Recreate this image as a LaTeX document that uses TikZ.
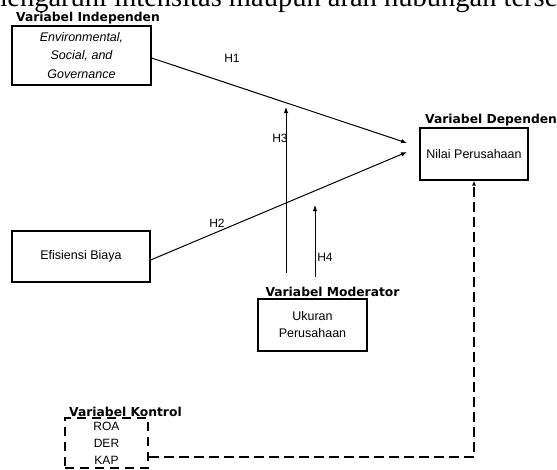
\documentclass[tikz,border=0pt]{standalone}
\usepackage{fontspec}
\setmainfont{Liberation Sans}
\newfontfamily\serifpart{Liberation Serif}
\newfontfamily\labelfont{DejaVu Sans}
\usetikzlibrary{arrows.meta,calc}
\begin{document}
\begin{tikzpicture}[x=1pt,y=-1pt,
  box/.style={draw=black, line width=1.3pt, inner sep=0pt, align=center,
    font=\fontsize{12.5}{18.5}\selectfont},
  dbox/.style={box, line width=2pt, dash pattern=on 9pt off 6pt,
    font=\fontsize{12}{17}\selectfont},
  varlabel/.style={inner sep=0pt, font=\labelfont\bfseries\fontsize{12.3}{14}\selectfont},
  hlabel/.style={inner sep=0pt, font=\fontsize{12}{14}\selectfont},
  arr/.style={draw=black, line width=1pt, -{Latex[length=6pt,width=4.5pt]}},
  darr/.style={draw=black, line width=2pt, dash pattern=on 10pt off 5pt,
    -{Latex[length=5pt,width=4pt]}}]
\useasboundingbox (0,0) rectangle (557,469);
\clip (0,0) rectangle (557,469);
\fill[white] (0,0) rectangle (557,469);

% cut-off running text at top
\node[anchor=base west, inner sep=0pt, font=\serifpart\fontsize{28.5}{30}\selectfont]
  (toptext) at (114,6.5) {\llap{memengaruhi }intensitas maupun arah hubungan tersebut};

% boxes
\node[box, minimum width=139pt, minimum height=59pt] (esg) at (81.5,55.5)
  {\itshape Environmental,\\ \itshape Social, and\\ \itshape Governance};
\node[box, minimum width=138pt, minimum height=51pt] (efi) at (81,256.5) {Efisiensi Biaya};
\node[box, minimum width=108pt, minimum height=52pt] (nilai) at (474,154) {Nilai Perusahaan};
\node[box, minimum width=109pt, minimum height=52pt, font=\fontsize{12.5}{17}\selectfont]
  (ukuran) at (312.5,325) {Ukuran\\Perusahaan};
\node[dbox, minimum width=83pt, minimum height=50pt] (kontrol) at (106.5,443) {ROA\\DER\\KAP};

% variable labels
\node[varlabel] (lind) at (88,18) {Variabel Independen};
\node[varlabel, anchor=west] (ldep) at (425,120) {Variabel Dependen};
\node[varlabel] (lmod) at (332.5,292) {Variabel Moderator};
\node[varlabel, anchor=west] (lkon) at (69,412) {Variabel Kontrol};

% connector end points
\coordinate (h1end) at (407,143);
\coordinate (h2end) at (407,152);
\coordinate (h3s) at (286,273);
\coordinate (h3e) at (286,107);
\coordinate (h4s) at (315,277);
\coordinate (h4e) at (315,205);

% connectors
\draw[arr] ($(esg.east)+(0,2.5)$) -- (h1end);
\draw[arr] ($(efi.east)+(0,3.5)$) -- (h2end);
\draw[arr] (h3s) -- (h3e);
\draw[arr] (h4s) -- (h4e);
\draw[darr] ($(kontrol.east)+(0,14)$) -| (nilai.south);

% hypothesis labels
\node[hlabel] (lh1) at (232,58) {H1};
\node[hlabel] (lh2) at (217,223) {H2};
\node[hlabel] (lh3) at (280,138) {H3};
\node[hlabel] (lh4) at (325,257) {H4};
\end{tikzpicture}
\end{document}
